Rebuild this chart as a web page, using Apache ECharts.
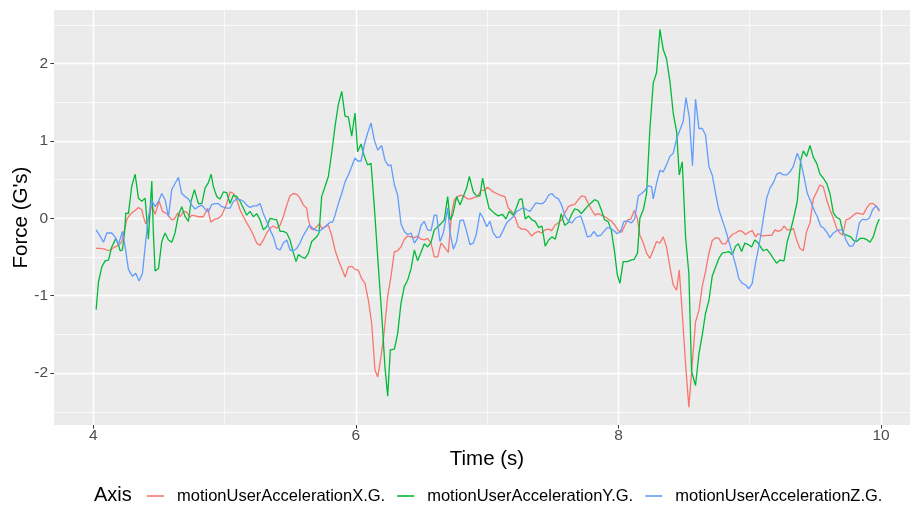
<!DOCTYPE html>
<html>
<head>
<meta charset="utf-8">
<script src="https://cdn.jsdelivr.net/npm/echarts@6/dist/echarts.min.js"></script>
<style>html,body{margin:0;padding:0;background:#fff;}#chart{width:910px;height:506px;}</style>
</head>
<body>
<div id="chart"></div>
<script>
const seriesNames = ['motionUserAccelerationX.G.', 'motionUserAccelerationY.G.', 'motionUserAccelerationZ.G.'];
const xMajorTicks = [4, 6, 8, 10];
const xMinorTicks = [5, 7, 9];
const yMajorTicks = [-2, -1, 0, 1, 2];
const yMinorTicks = [-2.5, -1.5, -0.5, 0.5, 1.5, 2.5];

const accX = [[4.021,-0.39],[4.051,-0.39],[4.089,-0.40],[4.115,-0.42],[4.135,-0.40],[4.153,-0.38],[4.178,-0.36],[4.204,-0.33],[4.216,-0.30],[4.242,-0.11],[4.254,-0.02],[4.267,0.02],[4.292,0.07],[4.318,0.10],[4.343,0.14],[4.369,0.11],[4.381,0.02],[4.399,-0.07],[4.419,-0.02],[4.445,0.17],[4.470,0.05],[4.501,0.22],[4.526,0.09],[4.559,0.06],[4.572,0.05],[4.597,-0.02],[4.617,-0.01],[4.643,0.07],[4.661,0.02],[4.686,0.09],[4.711,0.08],[4.737,0.01],[4.749,0.04],[4.800,0.02],[4.838,0.02],[4.871,0.13],[4.894,-0.05],[4.927,-0.01],[4.952,0.00],[4.978,0.04],[5.016,0.19],[5.041,0.34],[5.067,0.32],[5.092,0.24],[5.117,0.11],[5.143,0.02],[5.168,-0.06],[5.193,-0.13],[5.219,-0.22],[5.244,-0.32],[5.270,-0.35],[5.295,-0.28],[5.320,-0.19],[5.346,-0.13],[5.371,-0.10],[5.397,-0.13],[5.422,-0.09],[5.447,0.02],[5.473,0.17],[5.498,0.29],[5.524,0.32],[5.549,0.31],[5.574,0.26],[5.600,0.17],[5.625,0.13],[5.638,-0.02],[5.656,-0.13],[5.676,-0.15],[5.701,-0.11],[5.722,-0.07],[5.739,-0.13],[5.765,-0.11],[5.790,-0.09],[5.815,-0.22],[5.841,-0.41],[5.866,-0.54],[5.892,-0.65],[5.917,-0.76],[5.942,-0.63],[5.968,-0.62],[5.993,-0.66],[6.018,-0.67],[6.044,-0.78],[6.069,-0.84],[6.095,-1.06],[6.120,-1.36],[6.145,-1.96],[6.166,-2.05],[6.183,-1.88],[6.209,-1.57],[6.242,-1.01],[6.267,-0.75],[6.293,-0.43],[6.318,-0.42],[6.343,-0.37],[6.369,-0.27],[6.394,-0.23],[6.420,-0.24],[6.445,-0.25],[6.470,-0.23],[6.496,-0.27],[6.521,-0.28],[6.546,-0.26],[6.572,-0.32],[6.597,-0.50],[6.623,-0.50],[6.648,-0.32],[6.673,-0.37],[6.704,-0.44],[6.729,0.06],[6.750,0.24],[6.775,0.28],[6.800,0.30],[6.826,0.28],[6.851,0.25],[6.877,0.25],[6.902,0.27],[6.927,0.28],[6.953,0.36],[6.978,0.36],[7.003,0.40],[7.046,0.34],[7.072,0.32],[7.097,0.30],[7.135,0.28],[7.161,0.13],[7.186,0.09],[7.211,0.02],[7.237,-0.11],[7.262,-0.14],[7.288,-0.14],[7.313,-0.17],[7.338,-0.23],[7.364,-0.19],[7.389,-0.17],[7.415,-0.19],[7.440,-0.15],[7.465,-0.14],[7.491,-0.16],[7.516,-0.09],[7.541,-0.06],[7.567,-0.02],[7.592,0.07],[7.618,0.15],[7.643,0.17],[7.668,0.18],[7.694,0.24],[7.719,0.29],[7.745,0.28],[7.770,0.19],[7.795,0.11],[7.821,0.04],[7.846,0.06],[7.871,0.04],[7.897,0.02],[7.922,-0.01],[7.948,-0.04],[7.973,-0.09],[7.998,-0.16],[8.024,-0.18],[8.069,-0.02],[8.095,-0.01],[8.120,0.10],[8.145,-0.01],[8.163,-0.22],[8.189,-0.32],[8.214,-0.45],[8.239,-0.52],[8.265,-0.41],[8.290,-0.30],[8.316,-0.32],[8.341,-0.24],[8.366,-0.37],[8.392,-0.63],[8.417,-0.86],[8.443,-0.93],[8.463,-0.67],[8.486,-1.23],[8.511,-1.88],[8.536,-2.44],[8.562,-1.88],[8.587,-1.34],[8.613,-1.19],[8.638,-0.88],[8.663,-0.69],[8.689,-0.45],[8.714,-0.29],[8.740,-0.25],[8.765,-0.26],[8.790,-0.33],[8.816,-0.33],[8.841,-0.26],[8.867,-0.21],[8.892,-0.19],[8.917,-0.16],[8.943,-0.17],[8.968,-0.21],[8.993,-0.18],[9.019,-0.16],[9.044,-0.24],[9.064,-0.20],[9.103,-0.23],[9.129,-0.22],[9.167,-0.22],[9.192,-0.15],[9.218,-0.17],[9.243,-0.15],[9.261,-0.10],[9.286,-0.15],[9.312,-0.15],[9.332,-0.13],[9.357,-0.28],[9.383,-0.39],[9.408,-0.42],[9.433,-0.17],[9.459,-0.06],[9.484,0.25],[9.510,0.34],[9.535,0.43],[9.560,0.41],[9.586,0.24],[9.611,0.11],[9.637,0.00],[9.662,-0.13],[9.687,-0.19],[9.708,-0.22],[9.733,-0.02],[9.763,0.00],[9.789,0.04],[9.814,0.07],[9.840,0.06],[9.865,0.05],[9.890,0.13],[9.916,0.19],[9.941,0.19],[9.967,0.15],[9.987,0.09]];

const accY = [[4.021,-1.18],[4.039,-0.82],[4.064,-0.63],[4.089,-0.55],[4.115,-0.54],[4.140,-0.37],[4.171,-0.26],[4.191,-0.34],[4.204,-0.42],[4.221,-0.41],[4.237,-0.19],[4.247,0.07],[4.267,0.06],[4.292,0.41],[4.318,0.57],[4.343,0.26],[4.369,0.22],[4.394,0.26],[4.419,-0.27],[4.445,0.48],[4.457,-0.19],[4.470,-0.68],[4.496,-0.65],[4.521,-0.30],[4.546,-0.19],[4.572,-0.28],[4.597,-0.31],[4.622,-0.19],[4.648,0.04],[4.673,0.15],[4.699,0.02],[4.724,-0.04],[4.744,0.22],[4.770,0.37],[4.800,0.19],[4.826,0.19],[4.851,0.39],[4.876,0.46],[4.897,0.57],[4.914,0.41],[4.940,0.28],[4.965,0.25],[4.990,0.34],[5.016,0.33],[5.041,0.19],[5.067,0.30],[5.092,0.28],[5.117,0.22],[5.143,0.13],[5.168,0.04],[5.193,0.09],[5.219,0.02],[5.244,0.06],[5.270,-0.02],[5.295,-0.15],[5.320,-0.11],[5.346,0.00],[5.371,-0.01],[5.397,-0.02],[5.422,-0.17],[5.447,-0.17],[5.473,-0.19],[5.498,-0.28],[5.524,-0.45],[5.544,-0.56],[5.562,-0.47],[5.587,-0.50],[5.612,-0.52],[5.638,-0.45],[5.663,-0.30],[5.701,-0.24],[5.719,-0.19],[5.739,0.28],[5.765,0.41],[5.790,0.54],[5.815,0.84],[5.841,1.19],[5.866,1.47],[5.892,1.64],[5.917,1.32],[5.942,1.31],[5.968,1.06],[5.993,1.36],[6.013,0.86],[6.039,0.96],[6.064,0.80],[6.089,0.69],[6.115,0.71],[6.140,0.15],[6.171,-0.63],[6.196,-1.23],[6.221,-1.92],[6.242,-2.30],[6.262,-1.70],[6.293,-1.69],[6.318,-1.49],[6.343,-1.10],[6.369,-0.88],[6.394,-0.80],[6.420,-0.65],[6.445,-0.41],[6.470,-0.55],[6.496,-0.44],[6.521,-0.33],[6.546,-0.37],[6.572,-0.31],[6.597,-0.15],[6.623,-0.11],[6.648,-0.07],[6.673,-0.02],[6.699,0.28],[6.717,-0.02],[6.737,0.04],[6.767,0.28],[6.793,0.17],[6.818,0.28],[6.843,0.39],[6.864,0.54],[6.894,0.34],[6.920,0.29],[6.945,0.29],[6.965,0.52],[6.988,0.32],[7.014,0.13],[7.059,0.06],[7.084,0.03],[7.117,0.05],[7.143,-0.01],[7.168,0.09],[7.199,0.04],[7.219,0.12],[7.244,0.24],[7.265,0.25],[7.290,-0.01],[7.315,0.03],[7.341,-0.02],[7.366,-0.04],[7.392,-0.12],[7.417,-0.10],[7.442,-0.36],[7.468,-0.28],[7.493,-0.24],[7.519,-0.27],[7.544,-0.10],[7.564,0.06],[7.590,-0.09],[7.615,-0.06],[7.640,0.04],[7.666,0.12],[7.691,0.11],[7.717,0.06],[7.742,0.11],[7.767,0.16],[7.793,0.20],[7.818,0.24],[7.844,0.22],[7.869,0.11],[7.894,-0.02],[7.920,-0.04],[7.945,-0.15],[7.970,-0.43],[7.991,-0.73],[8.011,-0.84],[8.036,-0.56],[8.069,-0.56],[8.095,-0.54],[8.120,-0.53],[8.145,-0.45],[8.163,0.00],[8.189,0.11],[8.214,0.32],[8.239,1.14],[8.265,1.75],[8.290,1.88],[8.316,2.44],[8.341,2.18],[8.366,2.06],[8.392,1.77],[8.417,1.36],[8.443,1.12],[8.463,0.56],[8.486,0.73],[8.511,-0.24],[8.536,-0.71],[8.557,-1.98],[8.587,-2.16],[8.613,-1.75],[8.638,-1.51],[8.663,-1.23],[8.689,-1.06],[8.714,-0.75],[8.740,-0.63],[8.765,-0.52],[8.790,-0.45],[8.816,-0.44],[8.841,-0.43],[8.867,-0.47],[8.892,-0.36],[8.913,-0.33],[8.938,-0.43],[8.963,-0.32],[8.989,-0.34],[9.014,-0.37],[9.039,-0.28],[9.064,-0.32],[9.103,-0.42],[9.129,-0.40],[9.154,-0.45],[9.180,-0.52],[9.205,-0.58],[9.230,-0.54],[9.261,-0.55],[9.286,-0.30],[9.312,-0.15],[9.337,0.02],[9.362,0.22],[9.388,0.75],[9.408,0.87],[9.433,0.80],[9.459,0.94],[9.484,0.79],[9.510,0.71],[9.535,0.57],[9.560,0.52],[9.586,0.45],[9.611,0.32],[9.637,0.07],[9.662,0.01],[9.687,-0.01],[9.700,-0.02],[9.713,-0.20],[9.743,-0.22],[9.769,-0.24],[9.794,-0.29],[9.814,-0.30],[9.840,-0.26],[9.870,-0.26],[9.895,-0.28],[9.916,-0.31],[9.941,-0.24],[9.967,-0.09],[9.987,-0.01]];

const accZ = [[4.021,-0.15],[4.051,-0.23],[4.077,-0.31],[4.102,-0.19],[4.140,-0.19],[4.165,-0.24],[4.191,-0.34],[4.221,-0.17],[4.242,-0.37],[4.267,-0.66],[4.298,-0.75],[4.323,-0.71],[4.348,-0.81],[4.374,-0.71],[4.394,-0.37],[4.419,0.02],[4.445,0.23],[4.470,0.15],[4.496,0.22],[4.521,0.32],[4.546,0.24],[4.572,0.02],[4.597,0.37],[4.622,0.45],[4.648,0.53],[4.673,0.32],[4.699,0.28],[4.724,0.25],[4.749,0.17],[4.775,0.12],[4.800,0.15],[4.826,0.17],[4.851,0.12],[4.876,0.08],[4.902,0.18],[4.927,0.19],[4.952,0.19],[4.978,0.15],[5.016,0.13],[5.041,0.13],[5.067,0.22],[5.092,0.25],[5.117,0.24],[5.143,0.22],[5.168,0.17],[5.193,0.14],[5.219,0.16],[5.244,0.16],[5.270,0.19],[5.295,0.06],[5.320,-0.04],[5.346,-0.15],[5.371,-0.24],[5.397,-0.39],[5.422,-0.41],[5.447,-0.32],[5.473,-0.28],[5.498,-0.41],[5.524,-0.42],[5.549,-0.39],[5.574,-0.32],[5.600,-0.22],[5.625,-0.15],[5.645,-0.09],[5.671,-0.13],[5.701,-0.16],[5.727,-0.16],[5.752,-0.13],[5.777,-0.09],[5.803,-0.05],[5.823,-0.05],[5.841,0.04],[5.866,0.19],[5.892,0.32],[5.917,0.47],[5.942,0.56],[5.968,0.67],[5.993,0.78],[6.013,0.74],[6.039,0.74],[6.064,0.95],[6.089,1.10],[6.115,1.23],[6.140,1.01],[6.166,0.88],[6.196,0.94],[6.221,0.75],[6.247,0.68],[6.267,0.69],[6.293,0.43],[6.318,0.30],[6.343,-0.07],[6.369,-0.17],[6.394,-0.21],[6.420,-0.19],[6.445,-0.32],[6.470,-0.26],[6.496,-0.09],[6.521,-0.04],[6.546,-0.15],[6.572,-0.16],[6.597,0.04],[6.615,0.04],[6.640,-0.30],[6.666,-0.19],[6.699,0.13],[6.717,-0.19],[6.742,-0.40],[6.767,-0.30],[6.793,-0.03],[6.818,-0.02],[6.843,-0.17],[6.869,-0.34],[6.894,-0.32],[6.915,-0.22],[6.945,0.07],[6.970,0.00],[6.996,-0.11],[7.021,-0.04],[7.046,-0.19],[7.072,-0.25],[7.097,-0.24],[7.123,-0.15],[7.148,-0.06],[7.173,-0.02],[7.199,0.02],[7.224,0.09],[7.249,0.11],[7.275,0.14],[7.300,0.11],[7.326,0.09],[7.351,0.15],[7.371,0.20],[7.397,0.19],[7.422,0.19],[7.442,0.22],[7.468,0.30],[7.493,0.32],[7.519,0.27],[7.544,0.25],[7.569,0.16],[7.595,0.02],[7.620,-0.04],[7.646,-0.06],[7.671,0.00],[7.696,0.02],[7.712,0.03],[7.737,-0.09],[7.762,-0.24],[7.788,-0.23],[7.813,-0.17],[7.838,-0.23],[7.864,-0.22],[7.889,-0.17],[7.915,-0.12],[7.940,-0.13],[7.965,-0.16],[7.991,-0.20],[8.016,-0.17],[8.042,-0.04],[8.074,-0.04],[8.100,-0.06],[8.125,0.00],[8.151,0.29],[8.176,0.32],[8.201,0.36],[8.227,0.42],[8.252,0.41],[8.265,0.25],[8.290,0.45],[8.316,0.62],[8.341,0.60],[8.366,0.69],[8.392,0.80],[8.417,0.84],[8.443,1.03],[8.468,1.14],[8.493,1.25],[8.514,1.56],[8.539,1.31],[8.564,0.68],[8.587,1.54],[8.613,1.16],[8.638,1.16],[8.663,1.08],[8.689,0.67],[8.714,0.56],[8.740,0.32],[8.765,0.11],[8.790,-0.02],[8.816,-0.15],[8.841,-0.30],[8.867,-0.45],[8.892,-0.60],[8.917,-0.78],[8.943,-0.84],[8.968,-0.86],[8.993,-0.91],[9.019,-0.84],[9.044,-0.58],[9.064,-0.41],[9.078,-0.28],[9.103,-0.01],[9.129,0.26],[9.154,0.39],[9.180,0.46],[9.205,0.57],[9.230,0.59],[9.256,0.56],[9.281,0.56],[9.307,0.60],[9.332,0.67],[9.362,0.84],[9.388,0.73],[9.413,0.54],[9.439,0.32],[9.464,0.22],[9.489,0.11],[9.515,0.02],[9.540,-0.10],[9.565,-0.13],[9.591,-0.19],[9.611,-0.25],[9.637,-0.19],[9.662,-0.16],[9.687,-0.15],[9.708,-0.15],[9.733,-0.28],[9.759,-0.36],[9.784,-0.36],[9.809,-0.28],[9.835,-0.06],[9.860,-0.01],[9.885,-0.02],[9.911,0.00],[9.936,0.11],[9.961,0.16],[9.987,0.11]];

const seriesData = [accX, accY, accZ];
const colors = ['#F8766D', '#00BA38', '#619CFF'];
const FONT = '"Liberation Sans", Arial, sans-serif';

const chart = echarts.init(document.getElementById('chart'), null, {renderer: 'canvas'});
const xMin = 3.70, xMax = 10.297, yMin = -2.671, yMax = 2.691;

const option = {
  animation: false,
  textStyle: {fontFamily: FONT},
  grid: {left: 54, right: -10, top: 10, bottom: 81, show: true, backgroundColor: '#EBEBEB', borderWidth: 0, containLabel: false, outerBoundsMode: 'none'},
  xAxis: [
    {
      type: 'value', min: xMin, max: xMax, position: 'bottom',
      name: 'Time (s)', nameLocation: 'middle', nameGap: 24, nameMoveOverlap: false,
      nameTextStyle: {fontSize: 20.5, color: '#000', fontFamily: FONT},
      axisLine: {show: false, onZero: false},
      axisTick: {show: true, customValues: xMajorTicks, length: 3.6, lineStyle: {color: '#333333', width: 1}},
      axisLabel: {customValues: xMajorTicks, margin: 3, fontSize: 15.5, color: '#4D4D4D', fontFamily: FONT, showMinLabel: true, showMaxLabel: true},
      splitLine: {show: true, lineStyle: {color: '#FFFFFF', width: 1.4}}
    },
    {
      type: 'value', min: xMin, max: xMax, position: 'bottom',
      axisLine: {show: false, onZero: false}, axisLabel: {show: false, customValues: xMinorTicks},
      axisTick: {show: false, customValues: xMinorTicks},
      splitLine: {show: true, lineStyle: {color: '#FFFFFF', width: 0.7}}
    }
  ],
  yAxis: [
    {
      type: 'value', min: yMin, max: yMax, position: 'left',
      name: "Force (G's)", nameLocation: 'middle', nameGap: 22, nameMoveOverlap: false,
      nameTextStyle: {fontSize: 20.5, color: '#000', fontFamily: FONT},
      axisLine: {show: false, onZero: false},
      axisTick: {show: true, customValues: yMajorTicks, length: 3.6, lineStyle: {color: '#333333', width: 1}},
      axisLabel: {customValues: yMajorTicks, margin: 6, fontSize: 15.5, color: '#4D4D4D', fontFamily: FONT},
      splitLine: {show: true, lineStyle: {color: '#FFFFFF', width: 1.4}}
    },
    {
      type: 'value', min: yMin, max: yMax, position: 'left',
      axisLine: {show: false, onZero: false}, axisLabel: {show: false, customValues: yMinorTicks},
      axisTick: {show: false, customValues: yMinorTicks},
      splitLine: {show: true, lineStyle: {color: '#FFFFFF', width: 0.7}}
    }
  ],
  legend: {
    data: seriesNames,
    left: 142, top: 482,
    icon: 'rect', itemWidth: 17, itemHeight: 1.6, itemGap: 12,
    textStyle: {fontSize: 16.5, color: '#000', fontFamily: FONT, padding: [0, 0, 0, 8], lineHeight: 18}
  },
  graphic: [{
    type: 'text', left: 94, top: 485,
    style: {text: 'Axis', fontSize: 20, fill: '#000', fontFamily: FONT}
  }],
  series: seriesNames.map((n, i) => ({
    name: n, type: 'line', data: seriesData[i], showSymbol: false, symbol: 'none',
    xAxisIndex: 0, yAxisIndex: 0,
    lineStyle: {color: colors[i], width: 1.3}, itemStyle: {color: colors[i]},
    clip: true
  }))
};
chart.setOption(option);
</script>
</body>
</html>
